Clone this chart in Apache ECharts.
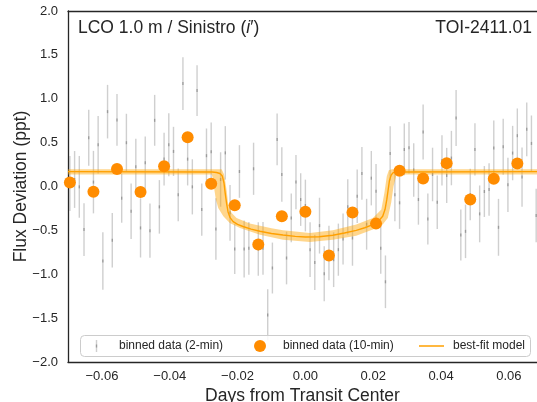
<!DOCTYPE html>
<html>
<head>
<meta charset="utf-8">
<script src="https://cdn.jsdelivr.net/npm/echarts@6/dist/echarts.min.js"></script>
<style>
html,body{margin:0;padding:0;background:#fff;}
#c{width:537px;height:402px;}
</style>
</head>
<body>
<div id="c"></div>
<script>
// 2-min binned data: time (minutes from transit centre), flux (ppt), 1-sigma error (ppt)
const binTimeMin = [-100,-98,-96,-94,-92,-90,-88,-86,-84,-82,-80,-78,-76,-74,-72,-70,-68,-66,-64,-62,
  -60,-58,-56,-54,-52,-50,-48,-46,-44,-42,-40,-38,-36,-34,-32,-30,-28,-26,-24,-22,
  -20,-18,-16,-14,-12,-10,-8,-6,-4,-2,0,2,4,6,8,10,12,14,16,18,
  20,22,24,26,28,30,32,34,36,38,40,42,44,46,48,50,52,54,56,58,
  60,62,64,66,68,70,72,74,76,78,80,82,84,86,88,90,92,94,96,98];
const binFlux = [0.034,0.080,-0.004,-0.491,0.556,0.050,0.476,-0.850,0.853,-0.613,
  0.758,-0.133,0.499,-0.282,0.225,-0.472,0.271,-0.503,0.754,-0.232,
  0.312,0.476,0.400,-0.095,1.173,0.312,-0.004,1.093,-0.263,0.351,
  0.396,-0.484,0.080,0.383,-0.300,-0.712,0.171,-0.712,-0.705,0.202,
  -0.712,-0.705,-1.463,-0.929,0.537,0.137,-0.815,-0.358,0.050,-0.149,
  -0.217,-0.720,-0.865,-0.446,-0.994,-0.758,-0.834,-0.720,-0.598,-0.232,
  -0.587,-0.110,0.149,-0.430,0.095,-0.053,-0.705,-1.086,0.377,-0.095,
  -0.186,0.423,0.442,0.187,-0.149,0.621,-0.370,0.137,-0.179,0.297,
  0.126,0.324,0.781,-0.552,-0.511,-0.091,0.423,-0.312,-0.057,-0.034,
  0.438,-0.465,0.453,0.019,0.381,0.579,0.107,0.651,0.491,-0.331];
const binErr = [0.314,0.324,0.352,0.300,0.320,0.356,0.328,0.328,0.305,0.310,
  0.295,0.280,0.330,0.316,0.318,0.337,0.300,0.310,0.290,0.305,
  0.300,0.358,0.280,0.300,0.300,0.300,0.314,0.290,0.297,0.310,
  0.333,0.350,0.310,0.305,0.318,0.286,0.300,0.324,0.300,0.297,
  0.305,0.300,0.293,0.290,0.295,0.310,0.300,0.278,0.310,0.300,
  0.295,0.312,0.314,0.318,0.314,0.310,0.312,0.297,0.290,0.314,
  0.316,0.305,0.300,0.290,0.310,0.310,0.290,0.300,0.310,0.300,
  0.297,0.295,0.293,0.305,0.286,0.314,0.290,0.305,0.305,0.286,
  0.314,0.310,0.320,0.290,0.305,0.293,0.297,0.324,0.290,0.300,
  0.314,0.324,0.318,0.310,0.310,0.310,0.337,0.305,0.318,0.305];

// 10-min binned data
const tenTimeMin = [-100,-90,-80,-70,-60,-50,-40,-30,-20,-10,0,10,20,30,40,50,60,70,80,90];
const tenFlux = [0.045,-0.060,0.200,-0.063,0.230,0.560,0.030,-0.215,-0.660,-0.340,
  -0.288,-0.785,-0.295,-0.423,0.180,0.091,0.266,-0.149,0.088,0.263];

// best-fit model (days, ppt)
const modelX = [-0.0700,-0.0275,-0.0262,-0.0252,-0.0245,-0.0240,-0.0236,-0.0232,-0.0228,-0.0222,
  -0.0213,-0.0200,-0.0184,-0.0160,-0.0134,-0.0100,-0.0066,-0.0030,0.0000,0.0040,
  0.0081,0.0115,0.0150,0.0175,0.0199,0.0215,0.0228,0.0235,0.0240,0.0244,
  0.0248,0.0253,0.0258,0.0265,0.0280,0.0683];
const modelY = [0.170,0.166,0.160,0.148,0.120,0.040,-0.090,-0.200,-0.290,-0.355,
  -0.400,-0.432,-0.456,-0.485,-0.510,-0.535,-0.552,-0.568,-0.575,-0.572,
  -0.555,-0.530,-0.500,-0.470,-0.435,-0.395,-0.340,-0.260,-0.150,-0.040,
  0.070,0.130,0.155,0.163,0.166,0.170];

// model uncertainty band
const bandUpX = [-0.0700,-0.0247,-0.0240,-0.0237,-0.0232,-0.0228,-0.0218,-0.0203,-0.0164,-0.0100,
  -0.0066,0.0013,0.0081,0.0150,0.0199,0.0224,0.0233,0.0240,0.0246,0.0255,0.0683];
const bandUpY = [0.197,0.196,0.140,0.080,-0.050,-0.186,-0.300,-0.358,-0.423,-0.475,
  -0.499,-0.530,-0.499,-0.434,-0.358,-0.263,-0.072,0.118,0.186,0.196,0.197];
const bandLoX = [-0.0700,-0.0276,-0.0272,-0.0270,-0.0264,-0.0257,-0.0242,-0.0223,-0.0193,-0.0134,
  -0.0066,0.0013,0.0081,0.0150,0.0199,0.0228,0.0243,0.0253,0.0260,0.0268,0.0275,0.0683];
const bandLoY = [0.137,0.136,0.080,0.004,-0.149,-0.244,-0.339,-0.415,-0.472,-0.549,
  -0.606,-0.632,-0.606,-0.560,-0.490,-0.434,-0.358,-0.186,0.004,0.126,0.136,0.137];

const xTicks = [-0.06,-0.04,-0.02,0.00,0.02,0.04,0.06];
const legendLabels = ['binned data (2-min)', 'binned data (10-min)', 'best-fit model'];

const MINPERDAY = 1440;
const FONT = '"Liberation Sans", Arial, sans-serif';
const INK = '#262626';
const BAR = 'rgba(128,128,128,0.38)';
const BARMARK = 'rgba(90,90,90,0.45)';
const DOT = '#FF8C00';
const LINE = '#FFA000';
const minusFmt = (v, d) => (v < -1e-9 ? '\u2212' : '') + Math.abs(v).toFixed(d);

const chart = echarts.init(document.getElementById('c'), null, {renderer: 'canvas'});

const errData = binTimeMin.map((t, i) => [t / MINPERDAY, binFlux[i], binErr[i]]);
const tenData = tenTimeMin.map((t, i) => [t / MINPERDAY, tenFlux[i]]);
const modelData = modelX.map((x, i) => [x, modelY[i]]);

const LY = 346; // legend row centre
const legendGraphic = [
  {type: 'rect', z: 100, shape: {x: 80.5, y: 335.5, width: 450, height: 21, r: 4},
    style: {fill: 'rgba(255,255,255,0.85)', stroke: '#cccccc', lineWidth: 1}},
  {type: 'line', z: 101, shape: {x1: 96.5, y1: LY - 6, x2: 96.5, y2: LY + 6},
    style: {stroke: BAR, lineWidth: 1.4}},
  {type: 'line', z: 101, shape: {x1: 96.5, y1: LY - 1.5, x2: 96.5, y2: LY + 1.5},
    style: {stroke: BARMARK, lineWidth: 1.4}},
  {type: 'text', z: 101, x: 119, y: LY, style: {text: legendLabels[0], fill: INK, font: '12px ' + FONT, verticalAlign: 'middle', align: 'left'}},
  {type: 'circle', z: 101, shape: {cx: 260, cy: LY, r: 6}, style: {fill: DOT}},
  {type: 'text', z: 101, x: 283, y: LY, style: {text: legendLabels[1], fill: INK, font: '12px ' + FONT, verticalAlign: 'middle', align: 'left'}},
  {type: 'line', z: 101, shape: {x1: 419, y1: LY, x2: 444, y2: LY}, style: {stroke: LINE, lineWidth: 1.5}},
  {type: 'text', z: 101, x: 453, y: LY, style: {text: legendLabels[2], fill: INK, font: '12px ' + FONT, verticalAlign: 'middle', align: 'left'}}
];

const option = {
  animation: false,
  backgroundColor: '#fff',
  textStyle: {fontFamily: FONT},
  grid: {left: 68, right: 0, top: 11, bottom: 40, containLabel: false, outerBoundsMode: 'none'},
  title: [
    {text: '{a|LCO 1.0 m / Sinistro (}{b|i}{a|\u2032)}', left: 78, top: 19, padding: 0,
      textStyle: {fontWeight: 'normal', rich: {
        a: {fontFamily: FONT, fontSize: 17.5, color: INK, fontWeight: 'normal'},
        b: {fontFamily: FONT, fontSize: 17.5, color: INK, fontWeight: 'normal', fontStyle: 'italic'}
      }}},
    {text: 'TOI-2411.01', right: 5, top: 19, padding: 0,
      textStyle: {fontFamily: FONT, fontSize: 17.5, color: INK, fontWeight: 'normal'}}
  ],
  graphic: legendGraphic,
  xAxis: [{
    type: 'value', min: -0.07, max: 0.0683,
    name: 'Days from Transit Center', nameLocation: 'middle', nameGap: 25, nameMoveOverlap: false,
    nameTextStyle: {fontFamily: FONT, fontSize: 17.5, color: INK},
    axisLine: {show: true, onZero: false, lineStyle: {color: INK, width: 1.3}},
    axisTick: {show: false},
    splitLine: {show: false},
    axisLabel: {customValues: xTicks, margin: 8, fontFamily: FONT, fontSize: 13, color: INK,
      formatter: v => minusFmt(v, 2)}
  }, {
    type: 'value', min: -0.07, max: 0.0683, position: 'top',
    axisLine: {show: true, onZero: false, lineStyle: {color: INK, width: 1.3}},
    axisTick: {show: false}, axisLabel: {show: false}, splitLine: {show: false}
  }],
  yAxis: {
    type: 'value', min: -2, max: 2, interval: 0.5,
    name: 'Flux Deviation (ppt)', nameLocation: 'middle', nameGap: 38, nameMoveOverlap: false,
    nameTextStyle: {fontFamily: FONT, fontSize: 17.5, color: INK},
    axisLine: {show: true, onZero: false, lineStyle: {color: INK, width: 1.3}},
    axisTick: {show: false},
    splitLine: {show: false},
    axisLabel: {margin: 10, fontFamily: FONT, fontSize: 13, color: INK,
      formatter: v => minusFmt(v, 1)}
  },
  series: [
    {
      name: legendLabels[0], type: 'custom', z: 2,
      encode: {x: 0, y: 1},
      data: errData,
      renderItem: (params, api) => {
        const x = api.value(0), y = api.value(1), e = api.value(2);
        const top = api.coord([x, y + e]);
        const bot = api.coord([x, y - e]);
        const c = api.coord([x, y]);
        return {type: 'group', children: [
          {type: 'line', shape: {x1: top[0], y1: top[1], x2: bot[0], y2: bot[1]},
            style: {stroke: BAR, lineWidth: 1.4}},
          {type: 'line', shape: {x1: c[0], y1: c[1] - 1.5, x2: c[0], y2: c[1] + 1.5},
            style: {stroke: BARMARK, lineWidth: 1.4}}
        ]};
      }
    },
    {
      name: 'model band', type: 'custom', z: 3, silent: true,
      data: [[0, 0]],
      renderItem: (params, api) => {
        const pts = [];
        for (let i = 0; i < bandUpX.length; i++) pts.push(api.coord([bandUpX[i], bandUpY[i]]));
        for (let i = bandLoX.length - 1; i >= 0; i--) pts.push(api.coord([bandLoX[i], bandLoY[i]]));
        return {type: 'polygon', shape: {points: pts},
          style: {fill: 'rgba(255,165,0,0.45)', stroke: 'none'}};
      }
    },
    {
      name: legendLabels[2], type: 'line', z: 4,
      data: modelData, showSymbol: false, symbol: 'none', smooth: false,
      lineStyle: {color: LINE, width: 1.4},
      itemStyle: {color: LINE}
    },
    {
      name: legendLabels[1], type: 'scatter', z: 5,
      data: tenData, symbol: 'circle', symbolSize: 12,
      itemStyle: {color: DOT, opacity: 1}
    }
  ]
};
chart.setOption(option);
</script>
</body>
</html>
